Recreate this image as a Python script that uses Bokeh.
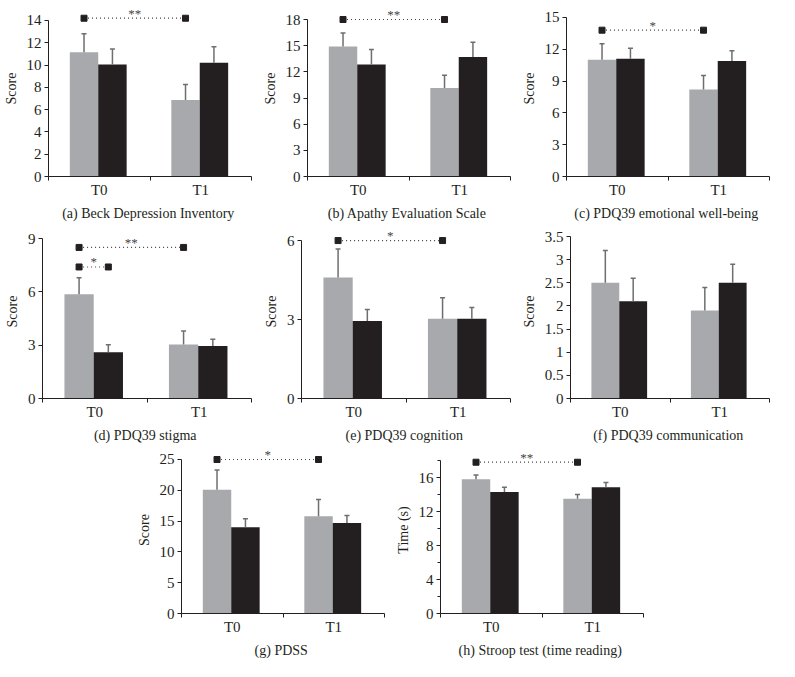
from bokeh.plotting import figure
from bokeh.layouts import column, row, Spacer
from bokeh.models import (Range1d, FixedTicker, ColumnDataSource, Whisker, TeeHead,
                          NumeralTickFormatter)
from bokeh.core.properties import value
from bokeh.embed import file_html
from bokeh.resources import INLINE

categories = ["T0", "T1"]

# (a) Beck Depression Inventory
a_gray = [11.15, 6.87]
a_gray_err = [1.65, 1.38]
a_black = [10.05, 10.2]
a_black_err = [1.38, 1.45]
a_ticks = [0, 2, 4, 6, 8, 10, 12, 14]

# (b) Apathy Evaluation Scale
b_gray = [14.9, 10.15]
b_gray_err = [1.55, 1.45]
b_black = [12.85, 13.7]
b_black_err = [1.7, 1.7]
b_ticks = [0, 3, 6, 9, 12, 15, 18]

# (c) PDQ39 emotional well-being
c_gray = [11.02, 8.2]
c_gray_err = [1.5, 1.32]
c_black = [11.1, 10.9]
c_black_err = [1.0, 0.95]
c_ticks = [0, 3, 6, 9, 12, 15]

# (d) PDQ39 stigma
d_gray = [5.86, 3.04]
d_gray_err = [0.94, 0.76]
d_black = [2.6, 2.96]
d_black_err = [0.42, 0.38]
d_ticks = [0, 3, 6, 9]

# (e) PDQ39 cognition
e_gray = [4.6, 3.03]
e_gray_err = [1.08, 0.8]
e_black = [2.94, 3.03]
e_black_err = [0.44, 0.43]
e_ticks = [0, 3, 6]

# (f) PDQ39 communication
f_gray = [2.5, 1.9]
f_gray_err = [0.7, 0.5]
f_black = [2.1, 2.5]
f_black_err = [0.5, 0.4]
f_ticks = [0, 0.5, 1, 1.5, 2, 2.5, 3, 3.5]

# (g) PDSS
g_gray = [20.1, 15.8]
g_gray_err = [3.2, 2.7]
g_black = [14.0, 14.7]
g_black_err = [1.4, 1.2]
g_ticks = [0, 5, 10, 15, 20, 25]

# (h) Stroop test (time reading)
h_gray = [15.8, 13.5]
h_gray_err = [0.5, 0.5]
h_black = [14.3, 14.85]
h_black_err = [0.55, 0.55]
h_ticks = [0, 4, 8, 12, 16]
h_minor = [2, 6, 10, 14, 18]

captions = ["(a)  Beck Depression Inventory", "(b)  Apathy Evaluation Scale",
            "(c)  PDQ39 emotional well-being", "(d)  PDQ39 stigma",
            "(e)  PDQ39 cognition", "(f)  PDQ39 communication",
            "(g)  PDSS", "(h)  Stroop test (time reading)"]
ylabels = ["Score"] * 7 + ["Time (s)"]

# significance brackets: (from group, from series, to group, to series, level, stars)
a_sig = [(0, 0, 1, 0, 14.2, "**")]
b_sig = [(0, 0, 1, 0, 18.0, "**")]
c_sig = [(0, 0, 1, 0, 13.8, "*")]
d_sig = [(0, 0, 1, 0, 8.5, "**"), (0, 0, 0, 1, 7.4, "*")]
e_sig = [(0, 0, 1, 0, 6.0, "*")]
f_sig = []
g_sig = [(0, 0, 1, 0, 25.0, "*")]
h_sig = [(0, 0, 1, 0, 17.8, "**")]

GRAY = "#a7a9ac"
BLACK = "#231f20"
ERR = "#6d6e71"
FONT = "Liberation Serif"
OFFS = [0.35, 0.63]
BW = 0.28


def panel(gray, gerr, black, berr, ticks, sig, caption, ylabel, ymax, height,
          bottom, minor=None, fmt=None):
    p = figure(width=259, height=height, output_backend="svg", toolbar_location=None,
               x_range=Range1d(0, 2), y_range=Range1d(0, ymax),
               min_border_left=42, min_border_right=8, min_border_top=0,
               min_border_bottom=bottom)
    p.outline_line_color = None
    p.grid.visible = False
    xi = [i for i in range(len(categories))]
    for k, (vals, errs, col) in enumerate([(gray, gerr, GRAY), (black, berr, BLACK)]):
        xs = [i + OFFS[k] for i in xi]
        src = ColumnDataSource(dict(x=xs, top=vals, up=[v + e for v, e in zip(vals, errs)]))
        p.vbar(x="x", top="top", bottom=0, width=BW, source=src, fill_color=col,
               line_color=None)
        p.add_layout(Whisker(base="x", lower="top", upper="up", source=src,
                             line_color=ERR, line_width=1.5,
                             upper_head=TeeHead(size=5, line_color=ERR, line_width=1.5),
                             lower_head=None, level="glyph"))
    for (g0, s0, g1, s1, lev, stars) in sig:
        x0 = xi[g0] + OFFS[s0]
        x1 = xi[g1] + OFFS[s1]
        p.segment(x0=[x0], y0=[lev], x1=[x1], y1=[lev], line_color="#444444",
                  line_width=1.2, line_dash="1 3")
        p.scatter(x=[x0, x1], y=[lev, lev], marker="square", size=6, color=BLACK)
        p.text(x=[(x0 + x1) / 2], y=[lev], text=[stars], text_align="center",
               text_baseline="middle", y_offset=-5, text_font=value(FONT),
               text_font_size="13px", text_color="#444444")
    xa = p.xaxis[0]
    xa.ticker = FixedTicker(ticks=[i + 0.5 for i in xi], minor_ticks=[0, 1, 2])
    xa.major_label_overrides = {i + 0.5: c for i, c in zip(xi, categories)}
    xa.bounds = (0, 2)
    xa.major_tick_out = 0
    xa.major_tick_in = 0
    xa.minor_tick_out = 4
    xa.minor_tick_in = 0
    xa.minor_tick_line_color = BLACK
    xa.major_label_standoff = 1
    xa.axis_label = caption
    xa.axis_label_standoff = 5
    ya = p.yaxis[0]
    ya.ticker = FixedTicker(ticks=ticks, minor_ticks=minor or [])
    ya.bounds = (0, max(ticks + (minor or [])))
    ya.major_tick_out = 4
    ya.major_tick_in = 0
    ya.minor_tick_out = 3
    ya.minor_tick_in = 0
    ya.minor_tick_line_color = BLACK
    ya.axis_label = ylabel
    ya.axis_label_standoff = 5
    ya.major_label_standoff = 3
    if fmt:
        ya.formatter = fmt
    for ax in (xa, ya):
        ax.axis_line_color = BLACK
        ax.major_tick_line_color = BLACK if ax is ya else None
        ax.major_label_text_font = FONT
        ax.major_label_text_font_size = "15px"
        ax.major_label_text_color = BLACK
        ax.axis_label_text_font = FONT
        ax.axis_label_text_font_size = "14px"
        ax.axis_label_text_font_style = "normal"
        ax.axis_label_text_color = BLACK
    return p


pa = panel(a_gray, a_gray_err, a_black, a_black_err, a_ticks, a_sig, captions[0], ylabels[0], 15.79, 224, 48)
pb = panel(b_gray, b_gray_err, b_black, b_black_err, b_ticks, b_sig, captions[1], ylabels[1], 20.18, 224, 48)
pc = panel(c_gray, c_gray_err, c_black, c_black_err, c_ticks, c_sig, captions[2], ylabels[2], 16.60, 224, 48)
pd = panel(d_gray, d_gray_err, d_black, d_black_err, d_ticks, d_sig, captions[3], ylabels[3], 9.79, 222, 48)
pe = panel(e_gray, e_gray_err, e_black, e_black_err, e_ticks, e_sig, captions[4], ylabels[4], 6.61, 222, 48)
pf = panel(f_gray, f_gray_err, f_black, f_black_err, f_ticks, f_sig, captions[5], ylabels[5], 3.76, 222, 48,
           fmt=NumeralTickFormatter(format="0.[0]"))
pg = panel(g_gray, g_gray_err, g_black, g_black_err, g_ticks, g_sig, captions[6], ylabels[6], 27.11, 215, 48)
ph = panel(h_gray, h_gray_err, h_black, h_black_err, h_ticks, h_sig, captions[7], ylabels[7], 19.65, 215, 48,
           minor=h_minor)

layout = column(row(pa, pb, pc), row(pd, pe, pf), row(Spacer(width=133, height=10), pg, ph))
open("out.html", "w").write(file_html(layout, INLINE))
